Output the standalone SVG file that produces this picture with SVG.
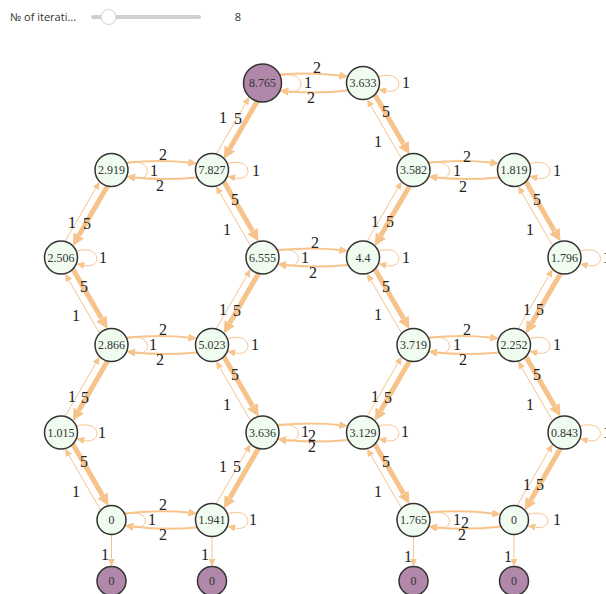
<svg xmlns="http://www.w3.org/2000/svg" width="606" height="594" viewBox="0 0 606 594">
<defs>
<marker id="a1" viewBox="0 0 8 7" refX="0" refY="3.5" markerWidth="8" markerHeight="7" markerUnits="userSpaceOnUse" orient="auto"><path d="M0,0L8,3.5L0,7z" fill="#f7c48c"/></marker>
<marker id="a2" viewBox="0 0 9 8" refX="0" refY="4" markerWidth="9" markerHeight="8" markerUnits="userSpaceOnUse" orient="auto"><path d="M0,0L9,4L0,8z" fill="#f7c48c"/></marker>
<marker id="a5" viewBox="0 0 12 12" refX="0" refY="6" markerWidth="12" markerHeight="12" markerUnits="userSpaceOnUse" orient="auto"><path d="M0,0L12,6L0,12z" fill="#f6c38b"/></marker>
</defs>
<style>
.e1{fill:none;stroke:#f7c48c;stroke-width:1;marker-end:url(#a1)}
.e2{fill:none;stroke:#f7c48c;stroke-width:2;marker-end:url(#a2)}
.e5{fill:none;stroke:#f6c38b;stroke-width:5;marker-end:url(#a5)}
.n circle{fill:#effcef;stroke:#333;stroke-width:1.5}
.p circle{fill:#b188aa;stroke:#333;stroke-width:1.5}
.nl{font-family:"Liberation Serif",serif;font-size:12px;fill:#333;text-anchor:middle}
.el{font-family:"Liberation Serif",serif;font-size:16px;fill:#222;text-anchor:middle}
.ui{font-family:"Open Sans","Noto Sans",sans-serif;font-size:11px;fill:#333}
</style>
<rect width="606" height="594" fill="#fff"/>
<g id="controls">
<text class="ui" x="10" y="21">№ of iterati...</text>
<line x1="93" y1="17" x2="199" y2="17" stroke="#cfcfcf" stroke-width="4" stroke-linecap="round"/>
<circle cx="108.5" cy="17" r="7.5" fill="#fff" stroke="#cfcfcf" stroke-width="1"/>
<text class="ui" x="238" y="21" text-anchor="middle">8</text>
</g>
<g id="connectors">
<path class="e2" d="M279.4,74.4 Q310,72 339.3,75.5"/>
<path class="e2" d="M348.3,90.5 Q318,94 288.4,91.6"/>
<path class="e2" d="M126.2,162.5 Q161.8,159.5 188.3,162.5"/>
<path class="e2" d="M197.3,177.5 Q161.8,180.5 135.2,177.5"/>
<path class="e2" d="M428.2,162.5 Q463.8,159.5 490.3,162.5"/>
<path class="e2" d="M499.3,177.5 Q463.8,180.5 437.2,177.5"/>
<path class="e2" d="M277.2,250 Q312.8,247 339.3,250"/>
<path class="e2" d="M348.3,265 Q312.8,268 286.2,265"/>
<path class="e2" d="M126.2,337.5 Q161.8,334.5 188.3,337.5"/>
<path class="e2" d="M197.3,352.5 Q161.8,355.5 135.2,352.5"/>
<path class="e2" d="M428.2,337.5 Q463.8,334.5 490.3,337.5"/>
<path class="e2" d="M499.3,352.5 Q463.8,355.5 437.2,352.5"/>
<path class="e2" d="M277.2,425 Q312.8,422 339.3,425"/>
<path class="e2" d="M348.3,440 Q312.8,443 286.2,440"/>
<path class="e2" d="M124.4,513.4 Q161.8,509.5 188.3,512.5"/>
<path class="e2" d="M197.3,527.5 Q161.8,530.5 133.4,526.6"/>
<path class="e2" d="M428.2,512.5 Q463.8,509.5 492.1,513.4"/>
<path class="e2" d="M501.1,526.6 Q463.8,530.5 437.2,527.5"/>
<path class="e5" d="M257.2,101.2 L229.8,148.6"/>
<path class="e1" d="M216.0,154.5 L245.4,103.7"/>
<path class="e5" d="M107.5,186.0 L78.8,235.6"/>
<path class="e1" d="M65.0,241.5 L95.7,188.4"/>
<path class="e5" d="M409.5,186.0 L380.8,235.6"/>
<path class="e1" d="M367.0,241.5 L397.7,188.4"/>
<path class="e5" d="M258.5,273.5 L229.8,323.1"/>
<path class="e1" d="M216.0,329.0 L246.7,275.9"/>
<path class="e5" d="M560.5,273.5 L531.8,323.1"/>
<path class="e1" d="M518.0,329.0 L548.7,275.9"/>
<path class="e5" d="M107.5,361.0 L78.8,410.6"/>
<path class="e1" d="M65.0,416.5 L95.7,363.4"/>
<path class="e5" d="M409.5,361.0 L380.8,410.6"/>
<path class="e1" d="M367.0,416.5 L397.7,363.4"/>
<path class="e5" d="M258.5,448.5 L229.8,498.1"/>
<path class="e1" d="M216.0,504.0 L246.7,450.9"/>
<path class="e5" d="M560.5,448.5 L530.8,499.9"/>
<path class="e1" d="M517.0,505.8 L548.7,450.9"/>
<path class="e5" d="M374.8,94.5 L403.5,144.1"/>
<path class="e1" d="M401.7,159.0 L371.0,105.9"/>
<path class="e5" d="M223.8,181.5 L252.5,231.1"/>
<path class="e1" d="M250.7,246.0 L220.0,192.9"/>
<path class="e5" d="M525.8,181.5 L554.5,231.1"/>
<path class="e1" d="M552.7,246.0 L522.0,192.9"/>
<path class="e5" d="M72.8,269.0 L101.5,318.6"/>
<path class="e1" d="M99.7,333.5 L69.0,280.4"/>
<path class="e5" d="M374.8,269.0 L403.5,318.6"/>
<path class="e1" d="M401.7,333.5 L371.0,280.4"/>
<path class="e5" d="M223.8,356.5 L252.5,406.1"/>
<path class="e1" d="M250.7,421.0 L220.0,367.9"/>
<path class="e5" d="M525.8,356.5 L554.5,406.1"/>
<path class="e1" d="M552.7,421.0 L522.0,367.9"/>
<path class="e5" d="M72.8,444.0 L102.5,495.4"/>
<path class="e1" d="M100.7,510.3 L69.0,455.4"/>
<path class="e5" d="M374.8,444.0 L403.5,493.6"/>
<path class="e1" d="M401.7,508.5 L371.0,455.4"/>
<path class="e1" d="M280.1,75.9 c25.4,-6.9 26.9,19.1 7.8,15.86"/>
<path class="e1" d="M378.3,76.8 c25.2,-7.8 26.7,18.2 7.8,14.2"/>
<path class="e1" d="M126.8,163.8 c25.2,-7.8 26.7,18.2 7.8,14.2"/>
<path class="e1" d="M227.3,163.8 c25.2,-7.8 26.7,18.2 7.8,14.2"/>
<path class="e1" d="M428.8,163.8 c25.2,-7.8 26.7,18.2 7.8,14.2"/>
<path class="e1" d="M529.3,163.8 c25.2,-7.8 26.7,18.2 7.8,14.2"/>
<path class="e1" d="M76.3,251.3 c25.2,-7.8 26.7,18.2 7.8,14.2"/>
<path class="e1" d="M277.8,251.3 c25.2,-7.8 26.7,18.2 7.8,14.2"/>
<path class="e1" d="M378.3,251.3 c25.2,-7.8 26.7,18.2 7.8,14.2"/>
<path class="e1" d="M579.8,251.3 c25.2,-7.8 26.7,18.2 7.8,14.2"/>
<path class="e1" d="M126.8,338.8 c25.2,-7.8 26.7,18.2 7.8,14.2"/>
<path class="e1" d="M227.3,338.8 c25.2,-7.8 26.7,18.2 7.8,14.2"/>
<path class="e1" d="M428.8,338.8 c25.2,-7.8 26.7,18.2 7.8,14.2"/>
<path class="e1" d="M529.3,338.8 c25.2,-7.8 26.7,18.2 7.8,14.2"/>
<path class="e1" d="M76.3,426.3 c25.2,-7.8 26.7,18.2 7.8,14.2"/>
<path class="e1" d="M277.8,426.3 c25.2,-7.8 26.7,18.2 7.8,14.2"/>
<path class="e1" d="M378.3,426.3 c25.2,-7.8 26.7,18.2 7.8,14.2"/>
<path class="e1" d="M579.8,426.3 c25.2,-7.8 26.7,18.2 7.8,14.2"/>
<path class="e1" d="M124.9,514.6 c25.06,-7.57 26.56,16.43 7.86,12.53"/>
<path class="e1" d="M227.3,513.8 c25.2,-7.8 26.7,18.2 7.8,14.2"/>
<path class="e1" d="M428.8,513.8 c25.2,-7.8 26.7,18.2 7.8,14.2"/>
<path class="e1" d="M527.4,514.6 c25.06,-7.57 26.56,16.43 7.86,12.53"/>
<path class="e1" d="M111.5,534.5 L111.5,558.5"/>
<path class="e1" d="M212,536.5 L212,558.5"/>
<path class="e1" d="M413.5,536.5 L413.5,558.5"/>
<path class="e1" d="M514,534.5 L514,558.5"/>
<g class="el">
<text x="317" y="73">2</text><text x="311" y="103">2</text><text x="308" y="88">1</text><text x="406" y="88">1</text>
<text x="223" y="123">1</text><text x="238" y="124">5</text>
<text x="386" y="117">5</text><text x="378" y="147">1</text>
<text x="163" y="160">2</text><text x="160" y="191">2</text><text x="154" y="176">1</text><text x="256" y="176">1</text>
<text x="467" y="162">2</text><text x="463" y="192">2</text><text x="457" y="176">1</text><text x="557" y="176">1</text>
<text x="72" y="228">1</text><text x="87" y="229">5</text>
<text x="235" y="205">5</text><text x="227" y="235">1</text>
<text x="375" y="227">1</text><text x="390" y="227">5</text>
<text x="537" y="205">5</text><text x="530" y="235">1</text>
<text x="103" y="263">1</text>
<text x="315" y="248">2</text><text x="313" y="278">2</text><text x="305" y="263">1</text><text x="406" y="263">1</text>
<text x="607" y="263">1</text>
<text x="84" y="292">5</text><text x="76" y="321">1</text>
<text x="223" y="315">1</text><text x="237" y="316">5</text>
<text x="386" y="292">5</text><text x="378" y="320">1</text>
<text x="527" y="315">1</text><text x="540" y="315">5</text>
<text x="163" y="335">2</text><text x="160" y="365">2</text><text x="153" y="350">1</text><text x="255" y="350">1</text>
<text x="467" y="335">2</text><text x="463" y="365">2</text><text x="457" y="350">1</text><text x="557" y="350">1</text>
<text x="72" y="402">1</text><text x="85" y="403">5</text>
<text x="235" y="380">5</text><text x="227" y="410">1</text>
<text x="375" y="402">1</text><text x="388" y="403">5</text>
<text x="537" y="380">5</text><text x="530" y="410">1</text>
<text x="102" y="438">1</text>
<text x="305" y="437">1</text><text x="312" y="441">2</text><text x="312" y="452">2</text>
<text x="405" y="437">1</text>
<text x="607" y="438">1</text>
<text x="84" y="467">5</text><text x="76" y="497">1</text>
<text x="223" y="472">1</text><text x="237" y="472">5</text>
<text x="386" y="467">5</text><text x="378" y="497">1</text>
<text x="527" y="490">1</text><text x="540" y="490">5</text>
<text x="163" y="510">2</text><text x="163" y="540">2</text><text x="152" y="525">1</text><text x="253" y="525">1</text>
<text x="457" y="525">1</text><text x="465" y="528">2</text><text x="462" y="540">2</text><text x="557" y="525">1</text>
<text x="105" y="560">1</text><text x="205" y="560">1</text><text x="408" y="562">1</text><text x="508" y="562">1</text>
</g>
</g>
<g id="n-8765" class="p"><circle cx="262.5" cy="83" r="19"/><text class="nl" x="262.5" y="87">8.765</text></g>
<g id="n-3633" class="n"><circle cx="363" cy="83" r="16.5"/><text class="nl" x="363" y="87">3.633</text></g>
<g id="n-2919" class="n"><circle cx="111.5" cy="170" r="16.5"/><text class="nl" x="111.5" y="174">2.919</text></g>
<g id="n-7827" class="n"><circle cx="212" cy="170" r="16.5"/><text class="nl" x="212" y="174">7.827</text></g>
<g id="n-3582" class="n"><circle cx="413.5" cy="170" r="16.5"/><text class="nl" x="413.5" y="174">3.582</text></g>
<g id="n-1819" class="n"><circle cx="514" cy="170" r="16.5"/><text class="nl" x="514" y="174">1.819</text></g>
<g id="n-2506" class="n"><circle cx="61" cy="257.5" r="16.5"/><text class="nl" x="61" y="261.5">2.506</text></g>
<g id="n-6555" class="n"><circle cx="262.5" cy="257.5" r="16.5"/><text class="nl" x="262.5" y="261.5">6.555</text></g>
<g id="n-44" class="n"><circle cx="363" cy="257.5" r="16.5"/><text class="nl" x="363" y="261.5">4.4</text></g>
<g id="n-1796" class="n"><circle cx="564.5" cy="257.5" r="16.5"/><text class="nl" x="564.5" y="261.5">1.796</text></g>
<g id="n-2866" class="n"><circle cx="111.5" cy="345" r="16.5"/><text class="nl" x="111.5" y="349">2.866</text></g>
<g id="n-5023" class="n"><circle cx="212" cy="345" r="16.5"/><text class="nl" x="212" y="349">5.023</text></g>
<g id="n-3719" class="n"><circle cx="413.5" cy="345" r="16.5"/><text class="nl" x="413.5" y="349">3.719</text></g>
<g id="n-2252" class="n"><circle cx="514" cy="345" r="16.5"/><text class="nl" x="514" y="349">2.252</text></g>
<g id="n-1015" class="n"><circle cx="61" cy="432.5" r="16.5"/><text class="nl" x="61" y="436.5">1.015</text></g>
<g id="n-3636" class="n"><circle cx="262.5" cy="432.5" r="16.5"/><text class="nl" x="262.5" y="436.5">3.636</text></g>
<g id="n-3129" class="n"><circle cx="363" cy="432.5" r="16.5"/><text class="nl" x="363" y="436.5">3.129</text></g>
<g id="n-0843" class="n"><circle cx="564.5" cy="432.5" r="16.5"/><text class="nl" x="564.5" y="436.5">0.843</text></g>
<g id="n-0a" class="n"><circle cx="111.5" cy="520" r="14.5"/><text class="nl" x="111.5" y="524">0</text></g>
<g id="n-1941" class="n"><circle cx="212" cy="520" r="16.5"/><text class="nl" x="212" y="524">1.941</text></g>
<g id="n-1765" class="n"><circle cx="413.5" cy="520" r="16.5"/><text class="nl" x="413.5" y="524">1.765</text></g>
<g id="n-0b" class="n"><circle cx="514" cy="520" r="14.5"/><text class="nl" x="514" y="524">0</text></g>
<g id="s-0a" class="p"><circle cx="111.5" cy="581" r="14.5"/><text class="nl" x="111.5" y="585">0</text></g>
<g id="s-0b" class="p"><circle cx="212" cy="581" r="14.5"/><text class="nl" x="212" y="585">0</text></g>
<g id="s-0c" class="p"><circle cx="413.5" cy="581" r="14.5"/><text class="nl" x="413.5" y="585">0</text></g>
<g id="s-0d" class="p"><circle cx="514" cy="581" r="14.5"/><text class="nl" x="514" y="585">0</text></g>
</svg>
